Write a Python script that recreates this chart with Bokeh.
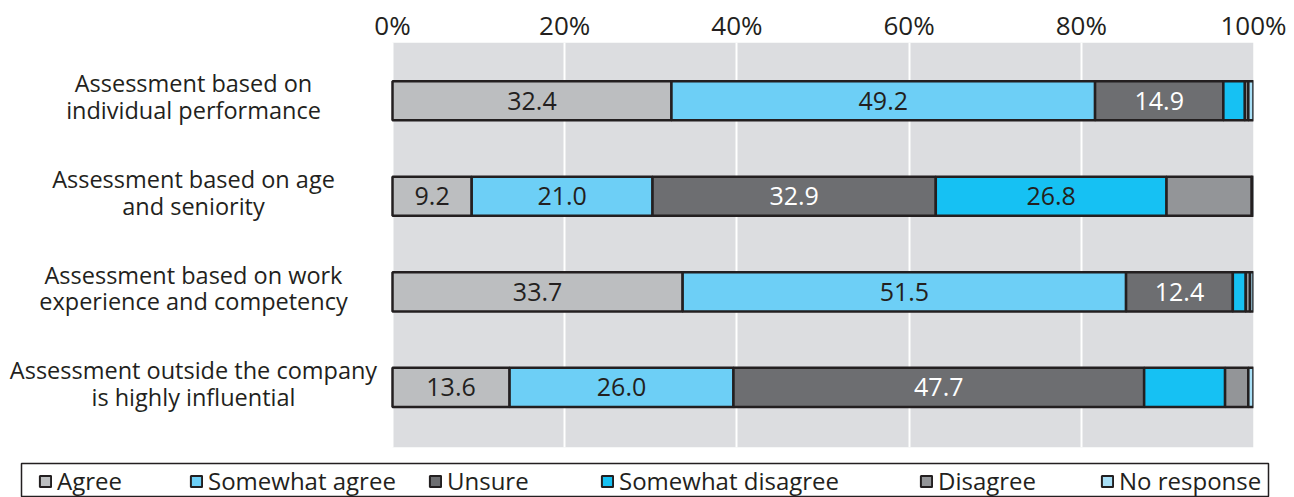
from bokeh.plotting import figure
from bokeh.models import ColumnDataSource, Range1d, FixedTicker, BoxAnnotation, Legend, LegendItem
from bokeh.layouts import column
from bokeh.embed import file_html
from bokeh.resources import INLINE
from bokeh.core.properties import value

# ---------------- data ----------------
categories = [
    "Assessment based on\nindividual performance",
    "Assessment based on age\nand seniority",
    "Assessment based on work\nexperience and competency",
    "Assessment outside the company\nis highly influential",
]
series = ["Agree", "Somewhat agree", "Unsure", "Somewhat disagree", "Disagree", "No response"]
agree = [32.4, 9.2, 33.7, 13.6]
somewhat_agree = [49.2, 21.0, 51.5, 26.0]
unsure = [14.9, 32.9, 12.4, 47.7]
somewhat_disagree = [2.5, 26.8, 1.5, 9.4]
disagree = [0.4, 9.9, 0.5, 2.7]
no_response = [0.6, 0.2, 0.4, 0.6]
tick_values = [0, 20, 40, 60, 80, 100]
tick_labels = ["0%", "20%", "40%", "60%", "80%", "100%"]

colors = ["#bcbec0", "#6dcff6", "#6d6e71", "#16c1f3", "#939598", "#a9e0f7"]
DARK = "#231f20"
BG = "#dcdde0"
FONT = "Open Sans"

values = [agree, somewhat_agree, unsure, somewhat_disagree, disagree, no_response]

# ---------------- layout constants (pixels) ----------------
W = 1294
TOP_H = 455
LEG_H = 42
ZERO_PX = 392          # where 0% sits in the frame
RIGHT_BORDER = 41
FRAME_W = W - RIGHT_BORDER
PX_PER_UNIT = (FRAME_W - ZERO_PX) / 100.0
LABEL_CENTER_PX = 193

x_start = -ZERO_PX / PX_PER_UNIT
label_x = (LABEL_CENTER_PX - ZERO_PX) / PX_PER_UNIT

rows = list(range(len(categories)))

data = {"y": rows}
for name, vals in zip(series, values):
    data[name] = vals
src = ColumnDataSource(data)

p = figure(width=W, height=TOP_H, x_range=Range1d(x_start, 100), y_range=Range1d(3.63, -0.61),
           x_axis_location="above", y_axis_location=None,
           toolbar_location=None, output_backend="svg",
           min_border_left=0, min_border_right=RIGHT_BORDER, min_border_top=42, min_border_bottom=8)
p.frame_align = False
p.outline_line_color = None
p.background_fill_color = "white"
p.border_fill_color = "white"

p.add_layout(BoxAnnotation(left=0, right=100, fill_color=BG, fill_alpha=1.0, line_color=None, level="image"))

p.xaxis.ticker = FixedTicker(ticks=tick_values)
p.xaxis.major_label_overrides = {v: l for v, l in zip(tick_values, tick_labels)}
p.xaxis.major_label_text_font = FONT
p.xaxis.major_label_text_font_size = "26px"
p.xaxis.major_label_text_color = DARK
p.xaxis.major_label_standoff = 0
p.xaxis.major_tick_out = 0
p.xaxis.major_tick_in = 0
p.xaxis.axis_line_color = None
p.xaxis.major_tick_line_color = None
p.xaxis.minor_tick_line_color = None

p.xgrid.ticker = FixedTicker(ticks=tick_values)
p.xgrid.grid_line_color = "white"
p.xgrid.grid_line_width = 2
p.ygrid.grid_line_color = None

p.hbar_stack(series, y="y", height=0.41, color=colors, source=src,
             line_color=DARK, line_width=2.5)

# value labels
lx, ly, lt, lc = [], [], [], []
for r in rows:
    left = 0.0
    for i, name in enumerate(series):
        v = values[i][r]
        if i < 3 or (i == 3 and v >= 20):
            lx.append(left + v / 2)
            ly.append(r)
            lt.append(f"{v:.1f}")
            lc.append("white" if name == "Unsure" else DARK)
        left += v
p.text(x="x", y="y", text="text", text_color="c",
       source=ColumnDataSource(dict(x=lx, y=ly, text=lt, c=lc)),
       text_align="center", text_baseline="middle",
       text_font=value(FONT), text_font_size="25px")

# category labels
p.text(x=[label_x] * len(categories), y=rows, text=categories,
       text_align="center", text_baseline="middle", y_offset=-4,
       text_font=value(FONT), text_font_size="23.5px", text_color=DARK,
       text_line_height=0.83)

# ---------------- legend ----------------
lf = figure(width=W, height=LEG_H, x_range=Range1d(0, 1), y_range=Range1d(0, 1),
            toolbar_location=None, output_backend="svg",
            min_border_left=21, min_border_right=26, min_border_top=8, min_border_bottom=0)
lf.frame_align = False
lf.axis.visible = False
lf.grid.visible = False
lf.outline_line_color = DARK
lf.outline_line_width = 1.5

# legend proxies: one zero-size bar each, placed outside the visible range
leg_x = [17, 168, 407, 579, 898, 1079]
for i, name in enumerate(series):
    r = lf.hbar(y=[-5], left=[0], right=[0], height=0.1, fill_color=colors[i],
                line_color=DARK, line_width=2)
    leg = Legend(items=[LegendItem(label=name, renderers=[r])], location=(leg_x[i], 0),
                 padding=0, margin=0, border_line_color=None, background_fill_alpha=0,
                 glyph_width=14, glyph_height=14, label_standoff=5,
                 label_text_font=FONT, label_text_font_size="24px", label_text_color=DARK)
    lf.add_layout(leg)

layout = column(p, lf, spacing=0)
open("out.html", "w").write(file_html(layout, INLINE))
